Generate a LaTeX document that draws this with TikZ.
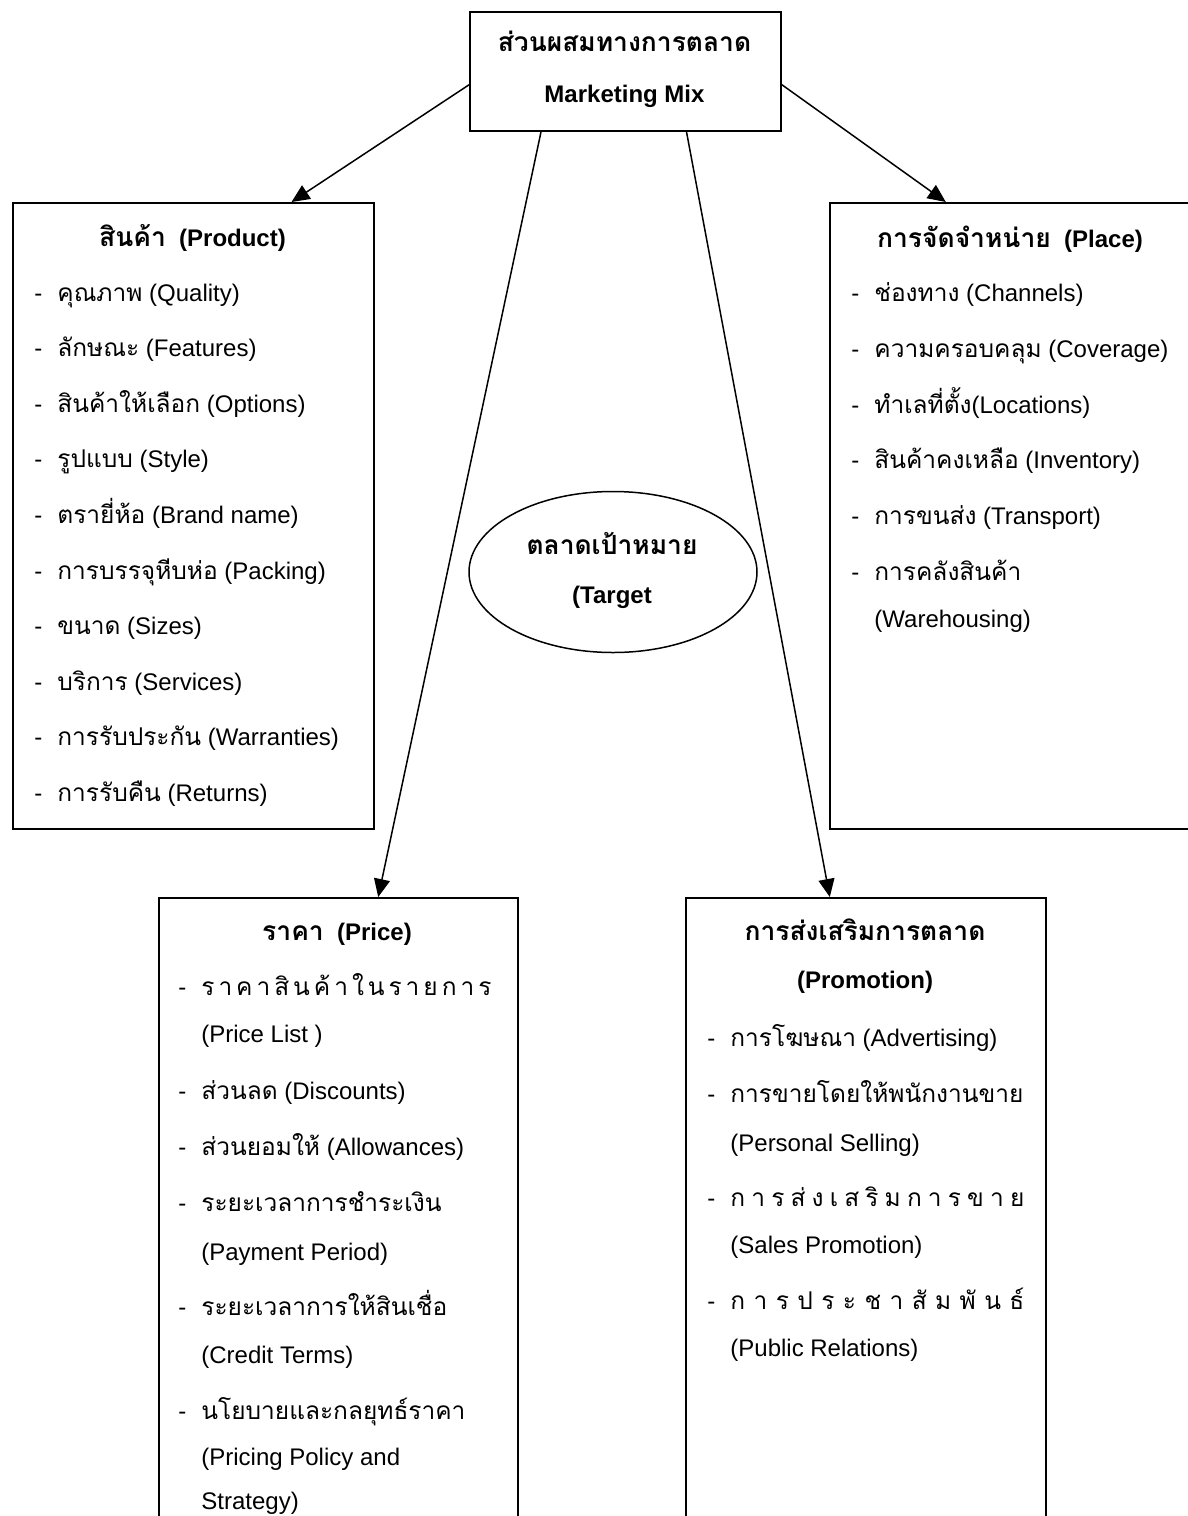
\documentclass[tikz,border=0pt]{standalone}
\usepackage{fontspec}
\setmainfont{Liberation Sans}
\newfontfamily\thaifont[Script=Thai, Scale=1.02, BoldFeatures={Scale=1.1}]{Loma}
\usetikzlibrary{arrows.meta, calc, shapes.geometric}

\newcommand{\thai}[1]{{\thaifont #1}}
\newcommand{\itemdash}{\makebox[11.5pt][l]{-}}
\newcommand{\spread}[2]{\makebox[#1][s]{\thaifont #2}}

\tikzset{
  box/.style={draw, line width=1pt, anchor=north west, inner sep=0pt},
  txt/.style={anchor=west, inner sep=0pt, text height=9pt, text depth=3pt, font=\fontsize{12}{14}\selectfont},
  ttl/.style={inner sep=0pt, text height=9pt, text depth=3pt, font=\fontsize{12}{14}\selectfont\bfseries},
  arr/.style={-{Triangle[length=9pt,width=8pt]}, line width=0.75pt}
}

\begin{document}
\begin{tikzpicture}[x=0.5pt, y=-0.5pt]
\useasboundingbox (0,0) rectangle (1188,1516);
\clip (0,0) rectangle (1188,1516);

\node[box, minimum width=155.5pt, minimum height=59.5pt] (mix) at (469,11) {};
\node[ttl] (mixth) at (624.5,45) {\thai{ส่วนผสมทางการตลาด}};
\node[ttl] (mixen) at (624.5,96) {Marketing Mix};

\node[box, minimum width=180.5pt, minimum height=313pt] (prod) at (12,202) {};
\node[box, minimum width=181.5pt, minimum height=313pt] (place) at (829,202) {};
\node[box, minimum width=179.5pt, minimum height=320pt] (price) at (158,897) {};
\node[box, minimum width=180pt, minimum height=320pt] (promo) at (685,897) {};
\node[ellipse, draw, line width=0.75pt, minimum width=144pt, minimum height=80.5pt, inner sep=0pt] (target) at (613,572) {};

\node[ttl] (targetth) at (612,548) {\thai{ตลาดเป้าหมาย}};
\node[ttl] (targeten) at (612,597) {(Target};

\draw[arr] ($(mix.north west)!0.61!(mix.south west)$) -- ($(prod.north west)!0.77!(prod.north east)$);
\draw[arr] ($(mix.north east)!0.61!(mix.south east)$) -- ($(place.north west)!0.32!(place.north east)$);
\draw[arr] ($(mix.south west)!0.23!(mix.south east)$) -- ($(price.north west)!0.61!(price.north east)$);
\draw[arr] ($(mix.south west)!0.695!(mix.south east)$) -- ($(promo.north west)!0.40!(promo.north east)$);

\node[ttl] (prodttl) at (192.5,240) {\thai{สินค้า}\ \ (Product)};
\foreach \ti/\en [count=\i from 0] in {คุณภาพ/Quality, ลักษณะ/Features, สินค้าให้เลือก/Options, รูปแบบ/Style, ตรายี่ห้อ/Brand name, การบรรจุหีบห่อ/Packing, ขนาด/Sizes, บริการ/Services, การรับประกัน/Warranties, การรับคืน/Returns}
  \node[txt] (prod\i) at (34,295+55.6*\i) {\itemdash\thai{\ti} (\en)};

\node[ttl] (placettl) at (1010,241) {\thai{การจัดจำหน่าย}\ \ (Place)};
\node[txt] (place0) at (851,295) {\itemdash\thai{ช่องทาง} (Channels)};
\node[txt] (place1) at (851,351) {\itemdash\thai{ความครอบคลุม} (Coverage)};
\node[txt] (place2) at (851,407) {\itemdash\thai{ทำเลที่ตั้ง}(Locations)};
\node[txt] (place3) at (851,462) {\itemdash\thai{สินค้าคงเหลือ} (Inventory)};
\node[txt] (place4) at (851,518) {\itemdash\thai{การขนส่ง} (Transport)};
\node[txt] (place5) at (851,574) {\itemdash\thai{การคลังสินค้า}};
\node[txt] (place5b) at (874,621) {(Warehousing)};

\node[ttl] (pricettl) at (337,934) {\thai{ราคา}\ \ (Price)};
\node[txt] (price0) at (178,989) {\itemdash\spread{145pt}{ร\hfil า\hfil ค\hfil า\hfil สิ\hfil น\hfil ค้\hfil า\hfil ใ\hfil น\hfil ร\hfil า\hfil ย\hfil ก\hfil า\hfil ร}};
\node[txt] (price0b) at (201,1036) {(Price List )};
\node[txt] (price1) at (178,1093) {\itemdash\thai{ส่วนลด} (Discounts)};
\node[txt] (price2) at (178,1149) {\itemdash\thai{ส่วนยอมให้} (Allowances)};
\node[txt] (price3) at (178,1205) {\itemdash\thai{ระยะเวลาการชำระเงิน}};
\node[txt] (price3b) at (201,1254) {(Payment Period)};
\node[txt] (price4) at (178,1309) {\itemdash\thai{ระยะเวลาการให้สินเชื่อ}};
\node[txt] (price4b) at (201,1357) {(Credit Terms)};
\node[txt] (price5) at (178,1413) {\itemdash\thai{นโยบายและกลยุทธ์ราคา}};
\node[txt] (price5b) at (201,1459) {(Pricing Policy and};
\node[txt] (price5c) at (201,1503) {Strategy)};

\node[ttl] (promottl) at (865,934) {\thai{การส่งเสริมการตลาด}};
\node[ttl] (promottlb) at (865,982) {(Promotion)};
\node[txt] (promo0) at (707,1040) {\itemdash\thai{การโฆษณา} (Advertising)};
\node[txt] (promo1) at (707,1096) {\itemdash\thai{การขายโดยให้พนักงานขาย}};
\node[txt] (promo1b) at (730,1145) {(Personal Selling)};
\node[txt] (promo2) at (707,1200) {\itemdash\spread{147pt}{ก\hfil า\hfil ร\hfil ส่\hfil ง\hfil เ\hfil ส\hfil ริ\hfil ม\hfil ก\hfil า\hfil ร\hfil ข\hfil า\hfil ย}};
\node[txt] (promo2b) at (730,1247) {(Sales Promotion)};
\node[txt] (promo3) at (707,1303) {\itemdash\spread{147pt}{ก\hfil า\hfil ร\hfil ป\hfil ร\hfil ะ\hfil ช\hfil า\hfil สั\hfil ม\hfil พั\hfil น\hfil ธ์}};
\node[txt] (promo3b) at (730,1350) {(Public Relations)};
\end{tikzpicture}
\end{document}
